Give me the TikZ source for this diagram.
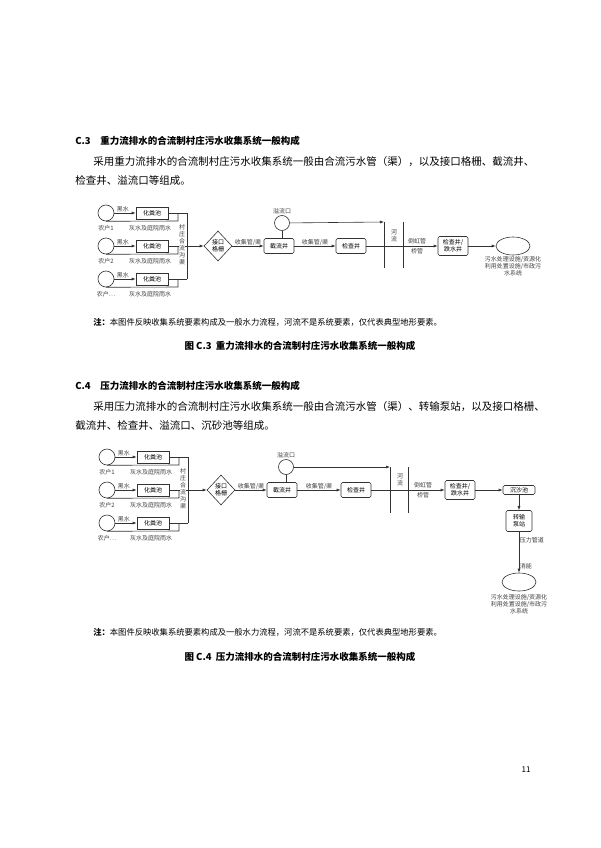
\documentclass[tikz,border=0pt]{standalone}
\usepackage{fontspec}
\setmainfont{Noto Sans CJK SC}
\usetikzlibrary{shapes.geometric,arrows.meta}
\tikzset{
	hh/.style={draw, circle, minimum size=16pt, inner sep=0pt},
	tank/.style={draw, minimum width=32pt, minimum height=12pt, inner sep=0pt, font=\fontsize{6}{6.5}\selectfont},
	well/.style={draw, rounded corners=1.5pt, minimum width=30pt, minimum height=15pt, inner sep=0pt, font=\fontsize{6}{7}\selectfont, align=center},
	grate/.style={draw, diamond, minimum width=28pt, minimum height=30pt, inner sep=0pt, font=\fontsize{6}{7}\selectfont, align=center},
	endpt/.style={draw, ellipse, minimum width=34pt, minimum height=18pt, inner sep=0pt},
	lb/.style={inner sep=0.5pt, text=black!75, font=\fontsize{6}{7}\selectfont, align=center},
	arr/.style={-{Latex[length=4pt,width=3pt]}},
	body/.style={anchor=west, inner sep=0pt, font=\fontsize{10.5}{12}\selectfont},
	hd/.style={anchor=west, inner sep=0pt, font=\fontsize{9.5}{11}\selectfont\bfseries},
	note/.style={anchor=west, inner sep=0pt, font=\fontsize{8.3}{10}\selectfont},
	figcap/.style={inner sep=0pt, font=\fontsize{9.5}{11}\selectfont\bfseries},
}
\begin{document}
\begin{tikzpicture}[x=1pt, y=-1pt, line width=0.6pt, draw=black!80]
	\fill[white] (0,0) rectangle (600,848);
	\useasboundingbox (0,0) rectangle (600,848);

	% section C.3
	\node[hd] (h3) at (75,141) {C.3\quad 重力流排水的合流制村庄污水收集系统一般构成};
	\node[body] (p3a) at (93,162) {采用重力流排水的合流制村庄污水收集系统一般由合流污水管（渠），以及接口格栅、截流井、};
	\node[body] (p3b) at (75,181) {检查井、溢流口等组成。};

	% houses
	\foreach \i/\y/\t in {1/213/1, 2/246/2, 3/279/…}{
		\node[hh] (hA\i) at (106,\y) {};
		\node[lb] (nA\i) at (106,\y+15) {农户\t};
		\node[tank] (tA\i) at (152,\y) {化粪池};
		\node[lb] (gA\i) at (150,\y+15) {灰水及庭院雨水};
		\draw[arr] (hA\i) -- node[lb, above, pos=0.4] {黑水} (tA\i);
		\draw (tA\i.east) -- (187,\y);
		\draw (hA\i.south) -- (178,\y+8) -- (178,\y);
	}
	\draw (187,213) -- (187,279);
	\node[lb, fill=white, inner sep=0pt] (cA) at (182,245) {村\\庄\\合\\流\\沟\\渠};

	\node[grate] (dA) at (218,246) {接口\\格栅};
	\node[well] (jA) at (279,246) {截流井};
	\node[hh, minimum size=15pt] (oA) at (282,223) {};
	\node[lb] (oAl) at (282,211) {溢流口};
	\node[well] (kA) at (351,246) {检查井};
	\node[well, minimum height=19pt] (dkA) at (453,246) {检查井/\\跌水井};
	\node[endpt] (eA) at (513,246) {};
	\node[lb] (eAl) at (513,266) {污水处理设施/资源化\\利用处置设施/市政污\\水系统};
	\coordinate (r1A) at (384,222);
	\coordinate (r2A) at (403,222);
	\draw (r1A) -- ++(0,46);
	\draw (r2A) -- ++(0,46);
	\node[lb] (rvA) at (394,236) {河\\流};
	\node[lb] (pgA) at (417,241) {倒虹管};
	\node[lb] (qgA) at (417,251) {桥管};

	\draw[arr] (187,246) -- (dA);
	\draw[arr] (dA) -- node[lb, above] {收集管/渠} (jA);
	\draw (jA.north -| oA) -- (oA);
	\draw[arr] (oA) -- (r1A);
	\draw[arr] (jA) -- node[lb, above] {收集管/渠} (kA);
	\draw[arr] (kA) -- (dkA);
	\draw[arr] (dkA) -- (eA);

	\node[note] (n3) at (93,322) {\textbf{注：}本图件反映收集系统要素构成及一般水力流程，河流不是系统要素，仅代表典型地形要素。};
	\node[figcap] (c3) at (300,346) {图 C.3\ \ 重力流排水的合流制村庄污水收集系统一般构成};

	% section C.4
	\node[hd] (h4) at (75,386) {C.4\quad 压力流排水的合流制村庄污水收集系统一般构成};
	\node[body] (p4a) at (93,407) {采用压力流排水的合流制村庄污水收集系统一般由合流污水管（渠）、转输泵站，以及接口格栅、};
	\node[body] (p4b) at (75,426) {截流井、检查井、溢流口、沉砂池等组成。};

	\foreach \i/\y/\t in {1/457/1, 2/490/2, 3/523/…}{
		\node[hh] (hB\i) at (107,\y) {};
		\node[lb] (nB\i) at (107,\y+15) {农户\t};
		\node[tank] (tB\i) at (153,\y) {化粪池};
		\node[lb] (gB\i) at (151,\y+15) {灰水及庭院雨水};
		\draw[arr] (hB\i) -- node[lb, above, pos=0.4] {黑水} (tB\i);
		\draw (tB\i.east) -- (188,\y);
		\draw (hB\i.south) -- (179,\y+8) -- (179,\y);
	}
	\draw (188,457) -- (188,523);
	\node[lb, fill=white, inner sep=0pt] (cB) at (183,489) {村\\庄\\合\\流\\沟\\渠};

	\node[grate] (dB) at (221,490) {接口\\格栅};
	\node[well] (jB) at (282,490) {截流井};
	\node[hh, minimum size=15pt] (oB) at (286,467) {};
	\node[lb] (oBl) at (286,455) {溢流口};
	\node[well] (kB) at (356,490) {检查井};
	\node[well, minimum height=19pt] (dkB) at (460,490) {检查井/\\跌水井};
	\node[well, minimum width=32pt, minimum height=9pt] (sB) at (519,490) {沉沙池};
	\node[well, minimum width=26pt, minimum height=21pt] (pB) at (519,521) {转输\\泵站};
	\node[endpt] (eB) at (519,582) {};
	\node[lb] (eBl) at (519,604) {污水处理设施/资源化\\利用处置设施/市政污\\水系统};
	\coordinate (r1B) at (390,467);
	\coordinate (r2B) at (408,467);
	\draw (r1B) -- ++(0,46);
	\draw (r2B) -- ++(0,46);
	\node[lb] (rvB) at (400,480) {河\\流};
	\node[lb] (pgB) at (423,485) {倒虹管};
	\node[lb] (qgB) at (423,495) {桥管};

	\draw[arr] (188,490) -- (dB);
	\draw[arr] (dB) -- node[lb, above] {收集管/渠} (jB);
	\draw (jB.north -| oB) -- (oB);
	\draw[arr] (oB) -- (r1B);
	\draw[arr] (jB) -- node[lb, above] {收集管/渠} (kB);
	\draw[arr] (kB) -- (dkB);
	\draw[arr] (dkB) -- (sB);
	\draw[arr] (sB) -- (pB);
	\draw[arr] (pB) -- node[lb, right, pos=0.2] {压力管道} node[lb, right, pos=0.85] {消能} (eB);

	\node[note] (n4) at (93,632) {\textbf{注：}本图件反映收集系统要素构成及一般水力流程，河流不是系统要素，仅代表典型地形要素。};
	\node[figcap] (c4) at (300,657) {图 C.4\ \ 压力流排水的合流制村庄污水收集系统一般构成};

	\node[inner sep=0pt, font=\fontsize{8}{9}\selectfont] (pg) at (526,770) {11};
\end{tikzpicture}
\end{document}
